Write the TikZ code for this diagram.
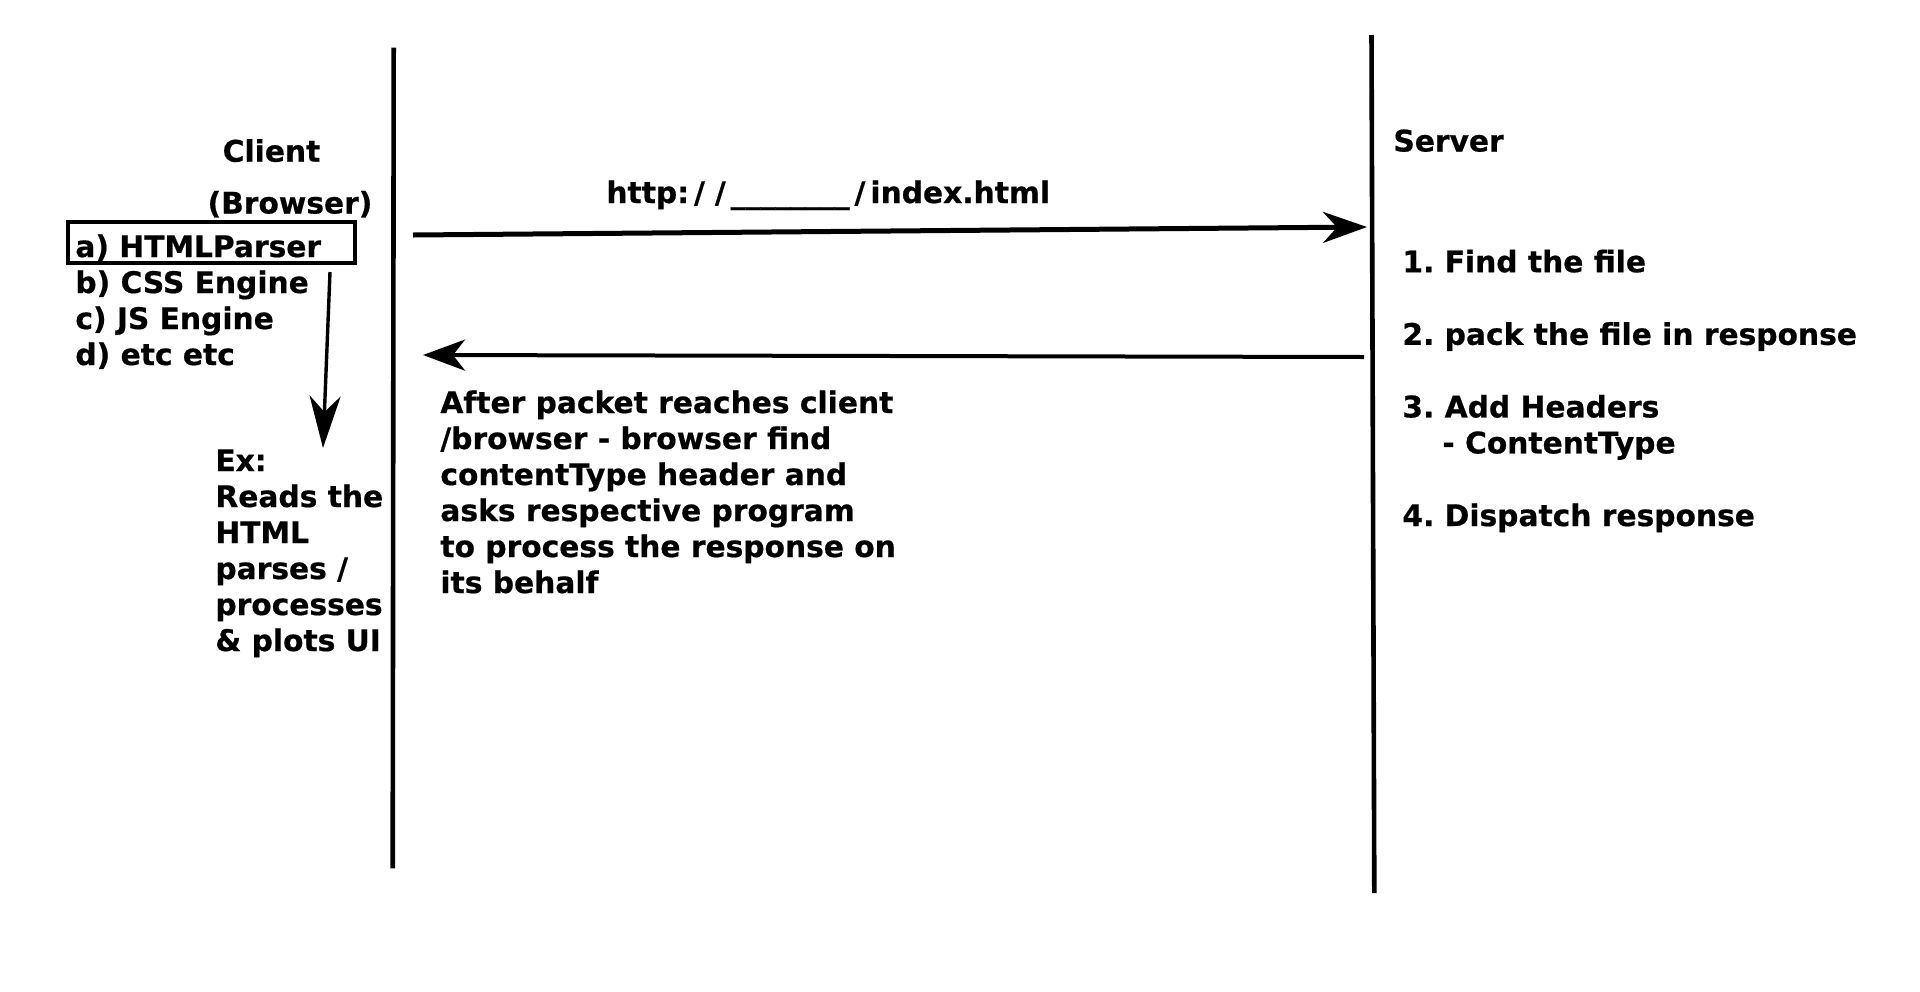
\documentclass[tikz,border=0pt]{standalone}
\usepackage{fontspec}
\setmainfont{DejaVu Sans}[BoldFeatures={FakeBold=0.6}]
\usepackage{tikz}
\usetikzlibrary{
  arrows.meta,
  positioning
}
\newcommand\urlslash{\kern2.5pt/\kern2.5pt}
\frenchspacing

\begin{document}
\begin{tikzpicture}[
  x=0.5pt, y=-0.5pt,
  lbl/.style={inner sep=0pt, font=\fontsize{14.85pt}{18pt}\selectfont\bfseries},
  block/.style={lbl, align=left, anchor=base west},
  lifeline/.style={line width=2.3pt},
  msg/.style={line width=2.5pt, -{Stealth[length=22pt, width=15.5pt, inset=7pt]}},
  reply/.style={line width=2pt, -{Stealth[length=21pt, width=15.5pt, inset=6pt]}},
  note/.style={line width=1.7pt, -{Stealth[length=26pt, width=15.5pt, inset=8pt]}},
  pbox/.style={draw, line width=2pt, minimum width=143.5pt, minimum height=20.5pt,
               inner sep=0pt},
]
  \useasboundingbox (0,0) rectangle (1920,991);

  % Lifelines
  \coordinate (clienttop) at (393.7, 47.7);
  \coordinate (clientbot) at (392.7, 868.3);
  \coordinate (servertop) at (1371.5, 35);
  \coordinate (serverbot) at (1374.3, 893);
  \draw[lifeline] (clienttop) -- (clientbot);
  \draw[lifeline] (servertop) -- (serverbot);

  % Client side (base of a block = its last line)
  \node[lbl, anchor=base] (clientlbl) at (271.5, 161.7) {Client};
  \node[lbl, anchor=base] (browserlbl) at (290, 213.5) {(Browser)};
  \node[pbox] (parserbox) at (211.5, 242.5) {};
  \node[block] (enginelist) at (75, 365)
    {a) HTMLParser\\b) CSS Engine\\c) JS Engine\\d) etc etc};
  \node[block] (exnote) at (215, 651)
    {Ex:\\Reads the\\HTML\\parses /\\processes\\\& plots UI};

  \coordinate (parsertail) at (330, 272);
  \coordinate (extip) at (323, 448);
  \draw[note] (parsertail) -- (extip);

  % Request
  \node[lbl, anchor=base west] (urllbl) at (606, 203)
    {http:\urlslash\urlslash\_\_\_\_\_\_\_\_\urlslash index.html};
  \coordinate (reqstart) at (413, 235);
  \coordinate (reqend) at (1367, 227);
  \draw[msg] (reqstart) -- (reqend);

  % Response
  \coordinate (respstart) at (1364, 357);
  \coordinate (respend) at (423, 355);
  \draw[reply] (respstart) -- (respend);
  \node[block] (afternote) at (440, 593)
    {After packet reaches client\\/browser - browser find\\contentType header and\\asks respective program\\to process the response on\\its behalf};

  % Server side
  \node[lbl, anchor=base west] (serverlbl) at (1393, 151.5) {Server};
  \node[block] (steplist) at (1402, 526)
    {1. Find the file\\[18.3pt]2. pack the file in response\\[18.3pt]3. Add Headers\\
     \hspace*{20pt}- ContentType\\[18.3pt]4. Dispatch response};

\end{tikzpicture}
\end{document}
